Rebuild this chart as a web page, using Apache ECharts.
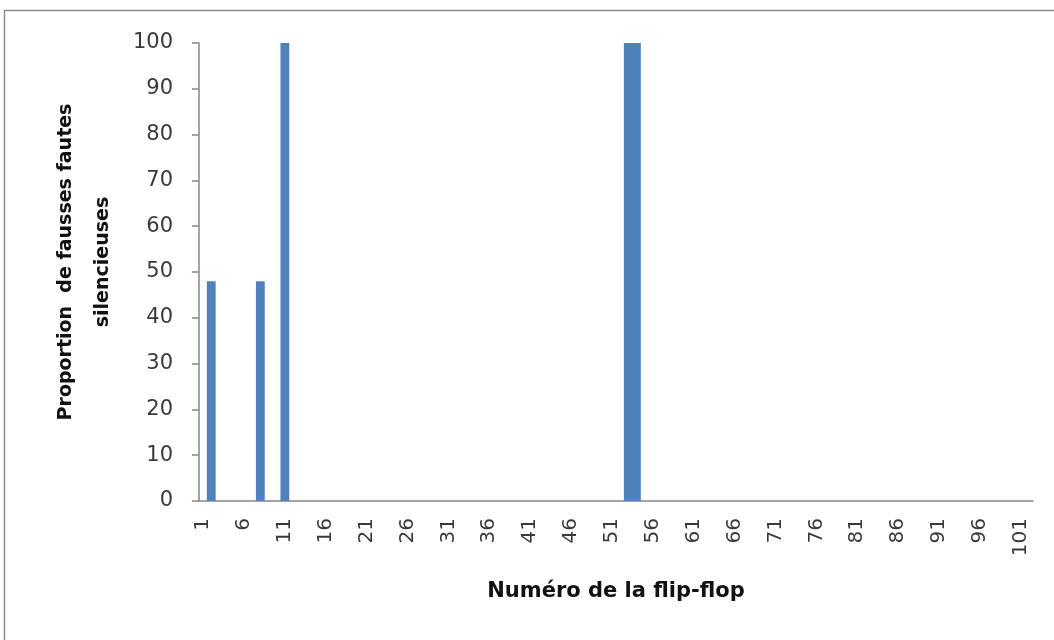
<!DOCTYPE html>
<html>
<head>
<meta charset="utf-8">
<title>Proportion de fausses fautes silencieuses</title>
<script src="https://cdn.jsdelivr.net/npm/echarts@6/dist/echarts.min.js"></script>
<style>
  html, body { margin: 0; padding: 0; background: #ffffff; }
  #chart { width: 1054px; height: 640px; }
</style>
</head>
<body>
<div id="chart"></div>
<script>
// Flip-flop numbers (x categories)
const flipFlops = [
  '1','2','3','4','5','6','7','8','9','10',
  '11','12','13','14','15','16','17','18','19','20',
  '21','22','23','24','25','26','27','28','29','30',
  '31','32','33','34','35','36','37','38','39','40',
  '41','42','43','44','45','46','47','48','49','50',
  '51','52','53','54','55','56','57','58','59','60',
  '61','62','63','64','65','66','67','68','69','70',
  '71','72','73','74','75','76','77','78','79','80',
  '81','82','83','84','85','86','87','88','89','90',
  '91','92','93','94','95','96','97','98','99','100',
  '101','102'
];

// Proportion of false silent faults per flip-flop (%)
const proportions = [
  0, 48, 0, 0, 0, 0, 0, 48, 0, 0,
  100, 0, 0, 0, 0, 0, 0, 0, 0, 0,
  0, 0, 0, 0, 0, 0, 0, 0, 0, 0,
  0, 0, 0, 0, 0, 0, 0, 0, 0, 0,
  0, 0, 0, 0, 0, 0, 0, 0, 0, 0,
  0, 0, 100, 100, 0, 0, 0, 0, 0, 0,
  0, 0, 0, 0, 0, 0, 0, 0, 0, 0,
  0, 0, 0, 0, 0, 0, 0, 0, 0, 0,
  0, 0, 0, 0, 0, 0, 0, 0, 0, 0,
  0, 0, 0, 0, 0, 0, 0, 0, 0, 0,
  0, 0
];

// Value axis ticks
const yTicks = { min: 0, max: 100, interval: 10 };

const xTitle = 'Numéro de la flip-flop';
const yTitle = 'Proportion  de fausses fautes\nsilencieuses';

const textColor = '#3a3a3a';
const titleColor = '#111111';
const axisColor = '#868686';
const barColor = '#4f81bd';

const chart = echarts.init(document.getElementById('chart'), null, { renderer: 'canvas' });

chart.setOption({
  backgroundColor: '#ffffff',
  animation: false,
  graphic: [{
    type: 'rect',
    shape: { x: 4.5, y: 10.5, width: 1200, height: 800 },
    style: { fill: 'none', stroke: '#8c8c8c', lineWidth: 1.5 },
    silent: true
  }],
  grid: { left: 199, right: 21, top: 43, bottom: 139, containLabel: false },
  xAxis: {
    type: 'category',
    data: flipFlops,
    name: xTitle,
    nameLocation: 'middle',
    nameGap: 80,
    nameTextStyle: {
      fontFamily: 'DejaVu Sans',
      fontWeight: 'bold',
      fontSize: 21,
      color: titleColor
    },
    axisLine: { show: true, lineStyle: { color: axisColor, width: 1.5 } },
    axisTick: { show: false },
    axisLabel: {
      interval: 4,
      rotate: 90,
      margin: 17,
      fontFamily: 'DejaVu Sans',
      fontSize: 20,
      color: textColor
    },
    splitLine: { show: false }
  },
  yAxis: {
    type: 'value',
    min: yTicks.min,
    max: yTicks.max,
    interval: yTicks.interval,
    name: yTitle,
    nameLocation: 'middle',
    nameRotate: 90,
    nameGap: 76,
    nameTextStyle: {
      fontFamily: 'DejaVu Sans',
      fontWeight: 'bold',
      fontSize: 19,
      lineHeight: 37,
      color: titleColor,
      align: 'center',
      padding: [0, 0, 0, 20]
    },
    axisLine: { show: true, lineStyle: { color: axisColor, width: 1.5 } },
    axisTick: { show: true, inside: false, length: 7, lineStyle: { color: axisColor, width: 1.5 } },
    axisLabel: {
      margin: 26,
      fontFamily: 'DejaVu Sans',
      fontSize: 21,
      color: textColor
    },
    splitLine: { show: false }
  },
  series: [{
    type: 'bar',
    data: proportions,
    // slightly wider than the category band so neighbouring bars merge
    barWidth: 8.8,
    itemStyle: { color: barColor },
    emphasis: { disabled: true }
  }]
});
</script>
</body>
</html>
